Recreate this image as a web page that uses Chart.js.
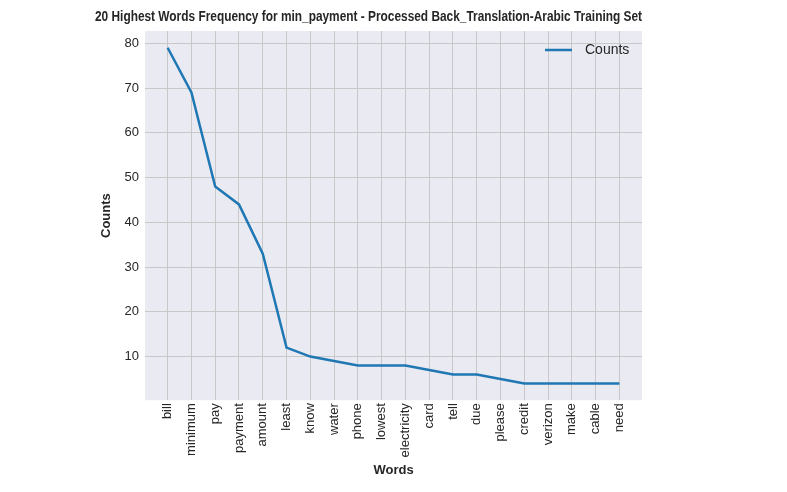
<!DOCTYPE html>
<html><head><meta charset="utf-8">
<script src="https://cdn.jsdelivr.net/npm/chart.js@4"></script>
<style>body{margin:0;background:#fff}#wrap{width:787px;height:492px}</style>
</head><body><div id="wrap"><canvas id="c"></canvas></div>
<script>
const words = ['bill','minimum','pay','payment','amount','least','know','water','phone','lowest','electricity','card','tell','due','please','credit','verizon','make','cable','need'];
const counts = [79,69,48,44,33,12,10,9,8,8,8,7,6,6,5,4,4,4,4,4];
const yTicks = [10,20,30,40,50,60,70,80];

const FONT = '"Liberation Sans", Arial, sans-serif';
Chart.defaults.font.family = FONT;
Chart.defaults.color = '#262626';

// legend box inside plot, top right
const innerLegend = {
  id: 'innerLegend',
  afterDraw(chart) {
    const ctx = chart.ctx, a = chart.chartArea;
    ctx.save();
    ctx.strokeStyle = '#1f77b4'; ctx.lineWidth = 2.5;
    ctx.beginPath(); ctx.moveTo(a.right - 97, a.top + 19); ctx.lineTo(a.right - 70, a.top + 19); ctx.stroke();
    ctx.fillStyle = '#262626'; ctx.font = '14px ' + FONT;
    ctx.textBaseline = 'middle';
    ctx.fillText('Counts', a.right - 57, a.top + 19);
    ctx.restore();
  }
};
const bg = {
  id: 'bg',
  beforeDraw(chart) {
    const a = chart.chartArea;
    chart.ctx.fillStyle = '#eaeaf2';
    chart.ctx.fillRect(a.left, a.top, a.right - a.left, a.bottom - a.top);
  }
};

new Chart(document.getElementById('c'), {
  type: 'line',
  data: {
    datasets: [{
      data: counts.map((v, i) => ({x: i, y: v})),
      borderColor: '#1f77b4', borderWidth: 2.5, pointRadius: 0, tension: 0
    }]
  },
  options: {
    responsive: true, maintainAspectRatio: false, animation: false,
    layout: {padding: {left: 95, right: 145, top: 0, bottom: 10}},
    plugins: {
      legend: {display: false}, tooltip: {enabled: false},
      title: {display: true, text: '20 Highest Words Frequency for min_payment - Processed Back_Translation-Arabic Training Set',
        font: {size: 15, weight: 'bold', family: FONT}, color: '#262626', padding: {top: 8, bottom: 5}}
    },
    scales: {
      x: {
        type: 'linear', min: -0.95, max: 19.95,
        afterBuildTicks: s => { s.ticks = words.map((w, i) => ({value: i})); },
        ticks: {callback: v => words[v], maxRotation: 90, minRotation: 90, font: {size: 13}, autoSkip: false},
        grid: {color: '#c8c8c8', drawTicks: false}, border: {display: false},
        title: {display: true, text: 'Words', font: {size: 13, weight: 'bold'}, padding: {top: 2}}
      },
      y: {
        min: 0.25, max: 82.75,
        afterBuildTicks: s => { s.ticks = yTicks.map(v => ({value: v})); },
        ticks: {font: {size: 13}, padding: 6},
        grid: {color: '#c8c8c8', drawTicks: false}, border: {display: false},
        title: {display: true, text: 'Counts', font: {size: 13, weight: 'bold'}}
      }
    }
  },
  plugins: [bg, innerLegend]
});
</script></body></html>
